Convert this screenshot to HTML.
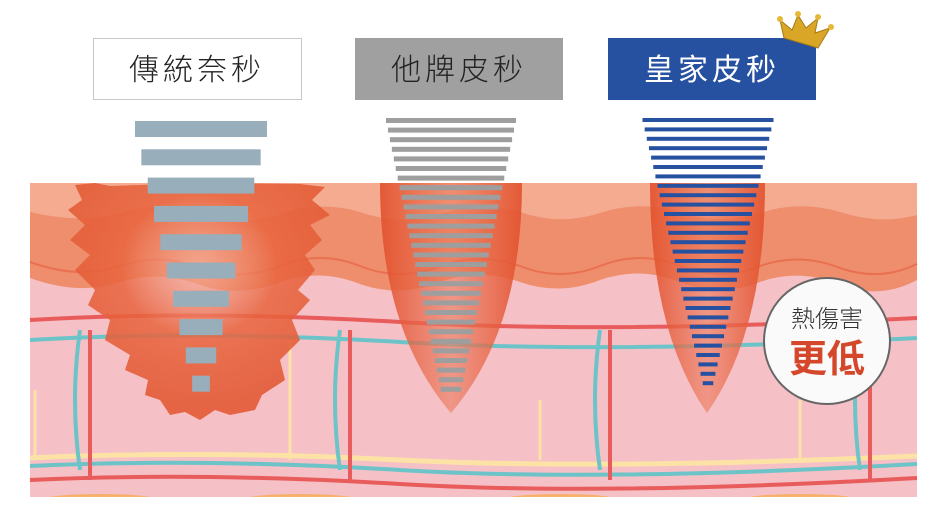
<!DOCTYPE html>
<html><head><meta charset="utf-8"><style>
html,body{margin:0;padding:0;background:#fff;width:946px;height:518px;overflow:hidden}
svg{display:block}
text{font-family:"Liberation Sans","Noto Sans CJK TC",sans-serif}
</style></head><body>
<svg id="s" width="946" height="518" viewBox="0 0 946 518" xmlns="http://www.w3.org/2000/svg">
<defs>
<radialGradient id="rg" cx="0.5" cy="0.35" r="0.6"><stop offset="0" stop-color="#f5b3a0" stop-opacity="0.6"/><stop offset="0.5" stop-color="#e8643e" stop-opacity="0.85"/><stop offset="1" stop-color="#e25a35" stop-opacity="0.9"/></radialGradient>
<linearGradient id="cg" x1="0" x2="1"><stop offset="0" stop-color="#e2502c" stop-opacity="0.9"/><stop offset="0.5" stop-color="#ec7a5c" stop-opacity="0.6"/><stop offset="1" stop-color="#e2502c" stop-opacity="0.9"/></linearGradient>
</defs>
<rect x="30" y="183" width="887" height="314" fill="#f5c0c6"/>
<path d="M30 183H917V280Q880 300 840 285Q800 268 760 282Q720 298 680 282Q640 266 600 280Q560 296 520 282Q480 268 440 282Q400 298 360 284Q320 268 280 282Q240 298 200 285Q160 270 120 282Q80 296 30 278Z" fill="#ef8e6c"/>
<path d="M30 183H917V215Q880 225 840 212Q800 200 760 213Q720 226 680 212Q640 200 600 213Q560 226 520 212Q480 200 440 214Q400 226 360 212Q320 200 280 214Q240 226 200 213Q160 200 120 213Q80 224 30 212Z" fill="#f4ab90"/>
<path d="M30 262Q80 280 120 266Q160 252 200 268Q240 282 280 266Q320 250 360 266Q400 282 440 266Q480 252 520 266Q560 282 600 266Q640 250 680 266Q720 282 760 266Q800 252 840 268Q880 282 917 264" fill="none" stroke="#e97050" stroke-width="2"/>
<path d="M30 320Q200 310 400 322T917 318" fill="none" stroke="#e85c5c" stroke-width="4"/>
<path d="M30 340Q200 330 400 342T917 338" fill="none" stroke="#6cc4c8" stroke-width="4"/>
<path d="M30 458Q200 450 400 460T917 456" fill="none" stroke="#fde2a6" stroke-width="5"/>
<path d="M30 466Q200 458 400 470T917 464" fill="none" stroke="#6cc4c8" stroke-width="4"/>
<path d="M30 480Q200 472 400 484T917 478" fill="none" stroke="#e85c5c" stroke-width="4"/>
<path d="M90 330V480M350 330V480M610 330V480M870 330V480" stroke="#e85c5c" stroke-width="4" fill="none"/>
<path d="M80 330Q70 400 80 470M340 330Q330 400 340 470M600 330Q590 400 600 470M860 330Q850 400 860 470" stroke="#6cc4c8" stroke-width="4" fill="none"/>
<path d="M290 340V460M540 400V460M800 400V460M35 390V460" stroke="#fde2a6" stroke-width="3" fill="none"/>
<ellipse cx="100" cy="499" rx="55" ry="5" fill="#f6b06a"/><ellipse cx="300" cy="499" rx="55" ry="5" fill="#f6b06a"/><ellipse cx="560" cy="499" rx="55" ry="5" fill="#f6b06a"/><ellipse cx="800" cy="499" rx="55" ry="5" fill="#f6b06a"/>
<rect x="0" y="497" width="946" height="21" fill="#fff"/>
<path d="M75 185L95 183L110 186L200 183L300 184L325 187L312 200L330 215L310 225L322 240L305 255L315 270L298 290L310 300L292 320L300 340L280 360L285 380L262 395L255 410L230 415L215 410L200 420L185 412L170 415L160 400L145 395L148 380L125 370L130 355L105 340L110 320L88 305L95 290L75 270L90 255L70 240L85 225L68 210L82 200Z" fill="url(#rg)"/>
<path d="M380 183H522Q522 330 451 413Q380 330 380 183Z" fill="url(#cg)"/>
<path d="M650 183H765Q765 330 707 413Q650 330 650 183Z" fill="url(#cg)"/>
<g id="bars"></g>
<rect x="93.5" y="38.5" width="208" height="61" fill="#fff" stroke="#c8c8c8"/>
<text x="197" y="80" font-size="30" fill="#222" text-anchor="middle" letter-spacing="4" font-weight="300">傳統奈秒</text>
<rect x="355" y="38" width="208" height="62" fill="#a0a0a0"/>
<text x="459" y="80" font-size="30" fill="#222" text-anchor="middle" letter-spacing="4" font-weight="300">他牌皮秒</text>
<rect x="608" y="38" width="208" height="62" fill="#2650a0"/>
<text x="712" y="80" font-size="30" fill="#fff" text-anchor="middle" letter-spacing="4">皇家皮秒</text>
<path d="M784 38L780 20L792 30L798 15L806 28L818 18L815 33L830 28L818 48Z" fill="#d9a628" stroke="#a87a10" stroke-width="1"/>
<circle cx="780" cy="19" r="3" fill="#e6b838"/><circle cx="798" cy="14" r="3" fill="#e6b838"/><circle cx="818" cy="17" r="3" fill="#e6b838"/><circle cx="831" cy="27" r="3" fill="#e6b838"/>
<circle cx="827" cy="341" r="63" fill="#fafafa" stroke="#666" stroke-width="2"/>
<text x="827" y="327" font-size="24" fill="#333" text-anchor="middle" font-weight="300">熱傷害</text>
<text x="827" y="372" font-size="38" fill="#d5472a" text-anchor="middle" font-weight="bold">更低</text>
</svg>
<script>
var g=document.getElementById('bars'),h='';
for(var i=0;i<10;i++){var w=132-i*12.7,y=121+i*28.3;h+='<rect x="'+(201-w/2)+'" y="'+y+'" width="'+w+'" height="16" fill="#98aebb"/>';}
for(var i=0;i<29;i++){var w=130-i*3.9,y=118+i*9.6;h+='<rect x="'+(451-w/2)+'" y="'+y+'" width="'+w+'" height="5" fill="#9e9e9e"/>';}
for(var i=0;i<29;i++){var w=131-i*4.3,y=118+i*9.4;h+='<rect x="'+(708-w/2)+'" y="'+y+'" width="'+w+'" height="4" fill="#2650a0"/>';}
g.innerHTML=h;
</script>
</body></html>
